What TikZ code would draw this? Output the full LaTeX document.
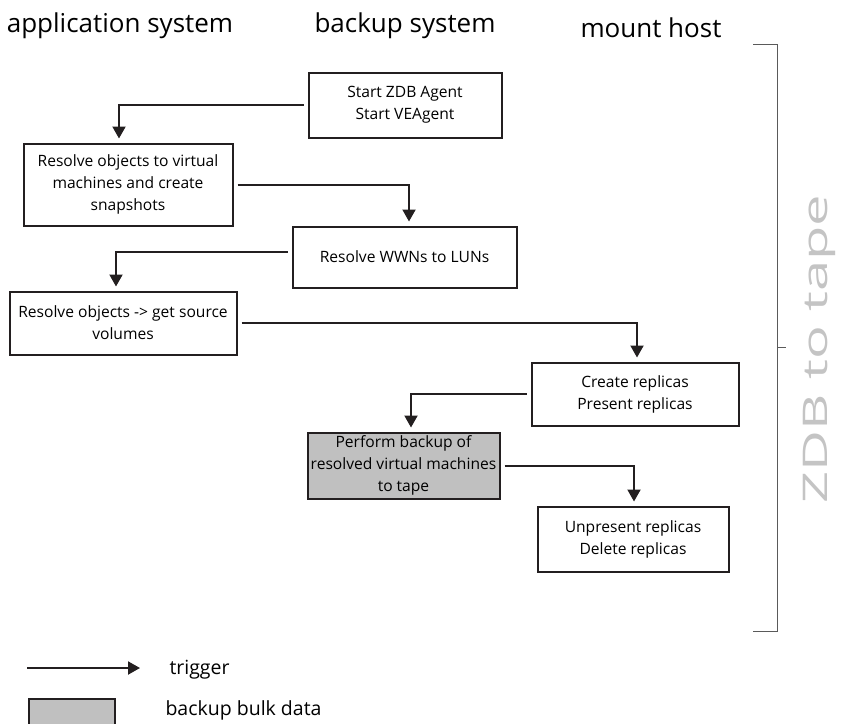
\documentclass[tikz,border=0pt]{standalone}
\usepackage{fontspec}
\setmainfont{Open Sans}
\usetikzlibrary{arrows.meta}
\definecolor{ink}{HTML}{231F20}
\definecolor{bulkgray}{HTML}{C0C0C0}
\definecolor{bracketgray}{HTML}{5A5A5A}
\definecolor{phasegray}{HTML}{C4C4C4}
\tikzset{
  stepbox/.style={draw=ink,line width=2pt,align=center,inner sep=2pt,
    font=\fontsize{15.6}{22}\selectfont},
  trig/.style={draw=ink,line width=2pt,-{Triangle[width=13pt,length=12pt]},
    shorten <=4pt,shorten >=4pt},
  colhead/.style={anchor=base,font=\fontsize{26}{30}\selectfont},
  legtext/.style={anchor=base west,font=\fontsize{19.5}{24}\selectfont}
}

\begin{document}
\begin{tikzpicture}[x=1pt,y=-1pt]
\useasboundingbox (0,0) rectangle (845,723);

% column heads
\node[colhead] (happ) at (120,32) {application system};
\node[colhead] (hbak) at (405,32) {backup system};
\node[colhead] (hmnt) at (651,37) {mount host};

% steps
\node[stepbox,minimum width=193pt,minimum height=65pt] (start) at (405,105) {Start ZDB Agent\\Start VEAgent};
\node[stepbox,minimum width=209pt,minimum height=82pt] (resvm) at (128,184.5) {Resolve objects to virtual\\machines and create\\snapshots};
\node[stepbox,minimum width=224pt,minimum height=61pt] (wwn) at (404.5,257) {Resolve WWNs to LUNs};
\node[stepbox,minimum width=227pt,minimum height=63pt] (srcvol) at (123,323) {Resolve objects -> get source\\volumes};
\node[stepbox,minimum width=207pt,minimum height=63pt] (mkrep) at (635,394) {Create replicas\\Present replicas};
\node[stepbox,fill=bulkgray,minimum width=192pt,minimum height=66pt,inner sep=0pt] (tape) at (403.5,465.5) {Perform backup of\\resolved virtual machines\\to tape};
\node[stepbox,minimum width=191pt,minimum height=65pt] (delrep) at (633,539) {Unpresent replicas\\Delete replicas};

% triggers
\draw[trig] (start.west) -| ([xshift=-9pt]resvm.north);
\draw[trig] (resvm.east) -| ([xshift=4.5pt]wwn.north);
\draw[trig] ([yshift=5pt]wwn.west) -| ([xshift=-7pt]srcvol.north);
\draw[trig] (srcvol.east) -| ([xshift=2pt]mkrep.north);
\draw[trig] (mkrep.west) -| ([xshift=7.5pt]tape.north);
\draw[trig] (tape.east) -| ([xshift=1pt]delrep.north);

% phase bracket
\draw[bracketgray,line width=1pt] (753,44) -- (777,44) -- (777,631) -- (753,631);
\draw[bracketgray,line width=1pt] (777,347) -- (786,347);
\node[rotate=90,xscale=1.65,anchor=base,text=phasegray,font=\fontsize{34}{40}\selectfont] (phase) at (827,349) {ZDB to tape};

% legend
\coordinate (legfrom) at (27,668);
\coordinate (legto) at (140,668);
\draw[trig,shorten <=0pt,shorten >=0pt] (legfrom) -- (legto);
\node[legtext] (legtrig) at (166,674) {trigger};
\node[draw=ink,line width=2pt,fill=bulkgray,minimum width=86pt,minimum height=34pt,anchor=north west] (legbox) at (28,698) {};
\node[legtext] (legbulk) at (162,715) {backup bulk data};
\end{tikzpicture}
\end{document}
